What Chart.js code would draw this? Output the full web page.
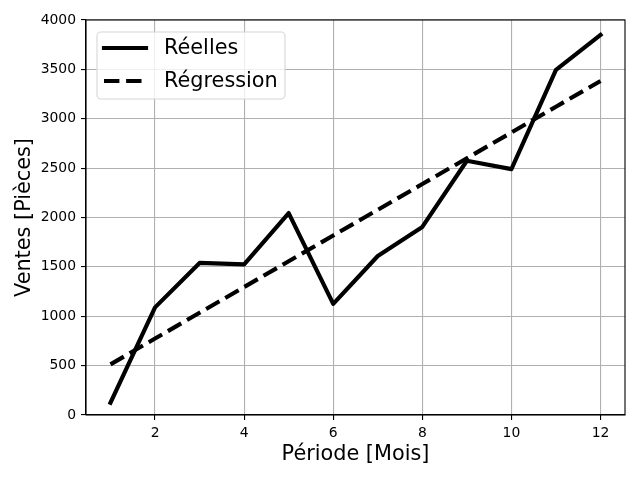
<!DOCTYPE html>
<html>
<head>
<meta charset="utf-8">
<script src="https://cdn.jsdelivr.net/npm/chart.js@4"></script>
<style>
  html, body { margin: 0; padding: 0; background: #fff; }
  #wrap { width: 640px; height: 480px; }
</style>
</head>
<body>
<div id="wrap"><canvas id="chart" width="640" height="480"></canvas></div>
<script>
// data
const periodes = [1, 2, 3, 4, 5, 6, 7, 8, 9, 10, 11, 12];
const reelles = [125, 1090, 1540, 1525, 2045, 1125, 1610, 1905, 2575, 2490, 3494, 3848];
const regression = [513, 774, 1035, 1296, 1557, 1818, 2078, 2339, 2600, 2861, 3122, 3382];
const xTicks = [2, 4, 6, 8, 10, 12];
const seriesNames = ['Réelles', 'Régression'];

const FONT = 'DejaVu Sans';
const LW = 4.17;

function points(vals) {
    return periodes.map((p, i) => ({ x: p, y: vals[i] }));
}

// top/right spines like matplotlib
const frame = {
    id: 'frame',
    afterDatasetsDraw(chart) {
        const { ctx, chartArea: a } = chart;
        ctx.save();
        ctx.strokeStyle = '#000';
        ctx.lineWidth = 1.1;
        ctx.strokeRect(a.left, a.top, a.right - a.left, a.bottom - a.top);
        ctx.restore();
    }
};

// legend drawn inside the plot, upper left
const innerLegend = {
    id: 'innerLegend',
    afterDraw(chart) {
        const ctx = chart.ctx;
        const x0 = 97, y0 = 32, w = 188, h = 67, r = 4;
        ctx.save();
        ctx.beginPath();
        ctx.roundRect(x0, y0, w, h, r);
        ctx.fillStyle = 'rgba(255,255,255,0.8)';
        ctx.fill();
        ctx.strokeStyle = '#d6d6d6';
        ctx.lineWidth = 1.1;
        ctx.stroke();

        ctx.font = '20.8px "' + FONT + '"';
        ctx.textBaseline = 'middle';
        ctx.fillStyle = '#000';
        chart.data.datasets.forEach((ds, i) => {
            const y = 48 + i * 33;
            ctx.beginPath();
            ctx.strokeStyle = '#000';
            ctx.lineWidth = LW;
            ctx.lineCap = ds.borderCapStyle;
            ctx.setLineDash(ds.borderDash || []);
            ctx.moveTo(104, y);
            ctx.lineTo(146, y);
            ctx.stroke();
            ctx.setLineDash([]);
            ctx.fillText(ds.label, 164, y + 1);
        });
        ctx.restore();
    }
};

new Chart(document.getElementById('chart'), {
    type: 'line',
    data: {
        datasets: [{
            label: seriesNames[0],
            data: points(reelles),
            borderColor: '#000',
            borderWidth: LW,
            borderCapStyle: 'square',
            borderJoinStyle: 'round',
            pointRadius: 0,
            tension: 0
        }, {
            label: seriesNames[1],
            data: points(regression),
            borderColor: '#000',
            borderWidth: LW,
            borderDash: [15.4, 6.7],
            borderCapStyle: 'butt',
            borderJoinStyle: 'round',
            pointRadius: 0,
            tension: 0
        }]
    },
    options: {
        responsive: false,
        animation: false,
        layout: { padding: { top: 20, right: 15, left: 0, bottom: 0 } },
        plugins: {
            legend: { display: false },
            tooltip: { enabled: false }
        },
        scales: {
            x: {
                type: 'linear',
                min: 0.45,
                max: 12.55,
                afterBuildTicks: (s) => { s.ticks = xTicks.map(v => ({ value: v })); },
                afterFit: (s) => { s.height = 65; },
                grid: { color: '#b0b0b0', lineWidth: 1.1, tickColor: '#000', tickLength: 5, tickWidth: 1.1 },
                border: { color: '#000', width: 1.1 },
                ticks: { color: '#000', padding: 5, font: { family: FONT, size: 13.9 }, maxRotation: 0 },
                title: {
                    display: true, text: 'Période [Mois]', color: '#000',
                    font: { family: FONT, size: 20.8 }, padding: { top: 0, bottom: 13 }
                }
            },
            y: {
                min: 0,
                max: 4000,
                ticks: {
                    stepSize: 500, color: '#000', padding: 5,
                    font: { family: FONT, size: 13.9 },
                    callback: (v) => String(v)
                },
                afterFit: (s) => { s.width = 86; },
                grid: { color: '#b0b0b0', lineWidth: 1.1, tickColor: '#000', tickLength: 5, tickWidth: 1.1 },
                border: { color: '#000', width: 1.1 },
                title: {
                    display: true, text: 'Ventes [Pièces]', color: '#000',
                    font: { family: FONT, size: 20.8 }, padding: { top: 12, bottom: 0 }
                }
            }
        }
    },
    plugins: [frame, innerLegend]
});
</script>
</body>
</html>
